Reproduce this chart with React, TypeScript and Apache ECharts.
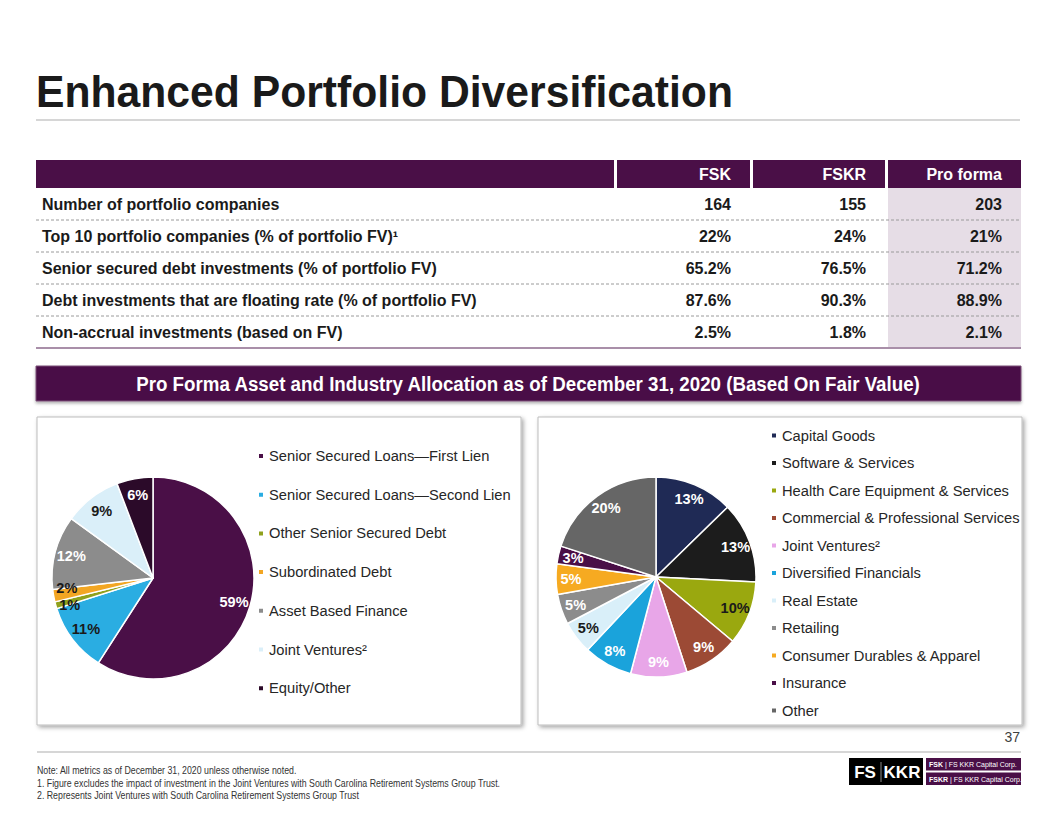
import React, { useEffect, useRef } from "react";
import * as echarts from "echarts";

// ---------- Data ----------
const titleText = "Enhanced Portfolio Diversification";
const tableHeaders = ["FSK", "FSKR", "Pro forma"];
const tableRows = [
  "Number of portfolio companies",
  "Top 10 portfolio companies (% of portfolio FV)¹",
  "Senior secured debt investments (% of portfolio FV)",
  "Debt investments that are floating rate (% of portfolio FV)",
  "Non-accrual investments (based on FV)",
];
const fskValues = ["164", "22%", "65.2%", "87.6%", "2.5%"];
const fskrValues = ["155", "24%", "76.5%", "90.3%", "1.8%"];
const proFormaValues = ["203", "21%", "71.2%", "88.9%", "2.1%"];
const bannerText =
  "Pro Forma Asset and Industry Allocation as of December 31, 2020 (Based On Fair Value)";

const assetNames = [
  "Senior Secured Loans—First Lien",
  "Senior Secured Loans—Second Lien",
  "Other Senior Secured Debt",
  "Subordinated Debt",
  "Asset Based Finance",
  "Joint Ventures²",
  "Equity/Other",
];
const assetValues = [59.1, 11.0, 1.1, 2.0, 11.8, 9.2, 5.8];

const industryNames = [
  "Capital Goods",
  "Software & Services",
  "Health Care Equipment & Services",
  "Commercial & Professional Services",
  "Joint Ventures²",
  "Diversified Financials",
  "Real Estate",
  "Retailing",
  "Consumer Durables & Apparel",
  "Insurance",
  "Other",
];
const industryValues = [12.7, 13.1, 10.3, 8.9, 9.1, 7.9, 5.3, 4.9, 4.9, 2.9, 20.0];

const footNotes = [
  "Note: All metrics as of December 31, 2020 unless otherwise noted.",
  "1. Figure excludes the impact of investment in the Joint Ventures with South Carolina Retirement Systems Group Trust.",
  "2. Represents Joint Ventures with South Carolina Retirement Systems Group Trust",
];
const pageNumber = "37";

// ---------- Styles ----------
const PURPLE = "#4a0f47";
const SANS = '"Liberation Sans", Arial, Helvetica, sans-serif';
const assetColors = ["#4a0f47", "#2aade2", "#8fa11d", "#f2a623", "#8c8c8c", "#daeff9", "#2b0a29"];
const assetLabelColors = ["#ffffff", "#1a1a1a", "#1a1a1a", "#1a1a1a", "#ffffff", "#1a1a1a", "#ffffff"];
// small nudges so the two tiny-slice labels don't sit on top of each other
const assetLabelOffsets = [[0, 0], [0, 0], [-2, 4], [-3, -5], [0, 0], [0, 0], [0, 0]];
const industryColors = [
  "#1f2a55", "#1c1c1c", "#9aa80f", "#9c4a35", "#e8a6e8", "#1aa3db",
  "#d9eff9", "#8c8c8c", "#f6aa21", "#4a0f47", "#666666",
];
const industryLabelColors = [
  "#ffffff", "#ffffff", "#1a1a1a", "#ffffff", "#ffffff", "#ffffff",
  "#1a1a1a", "#ffffff", "#ffffff", "#ffffff", "#ffffff",
];
const industryLabelOffsets = industryNames.map(() => [0, 0]);

function buildGraphics() {
  const g: any[] = [];
  // Title
  g.push({
    type: "text", x: 36, y: 92, z: 10, scaleX: 0.97,
    style: { text: titleText, fill: "#1a1a1a", fontSize: 44, fontWeight: "bold", fontFamily: SANS, align: "left", verticalAlign: "middle" },
  });
  g.push({ type: "line", z: 10, shape: { x1: 36, y1: 120, x2: 1020, y2: 120 }, style: { stroke: "#c8c8c8", lineWidth: 1.5 } });

  // Table header
  const cols = [[36, 614], [617, 750], [753, 885], [888, 1021]];
  cols.forEach((c) => {
    g.push({ type: "rect", z: 10, shape: { x: c[0], y: 160, width: c[1] - c[0], height: 28 }, style: { fill: PURPLE } });
  });
  g.push({ type: "rect", z: 9, shape: { x: 888, y: 188, width: 133, height: 160 }, style: { fill: "#e6dde6" } });
  tableHeaders.forEach((h, i) => {
    g.push({
      type: "text", z: 11, x: cols[i + 1][1] - 19, y: 174,
      style: { text: h, fill: "#ffffff", fontSize: 16, fontWeight: "bold", fontFamily: SANS, align: "right", verticalAlign: "middle" },
    });
  });
  tableRows.forEach((r, i) => {
    const y = 204 + i * 32;
    g.push({
      type: "text", z: 11, x: 42, y,
      style: { text: r, fill: "#1a1a1a", fontSize: 16, fontWeight: "bold", fontFamily: SANS, align: "left", verticalAlign: "middle" },
    });
    [fskValues[i], fskrValues[i], proFormaValues[i]].forEach((v, j) => {
      g.push({
        type: "text", z: 11, x: cols[j + 1][1] - 19, y,
        style: { text: v, fill: "#1a1a1a", fontSize: 16, fontWeight: "bold", fontFamily: SANS, align: "right", verticalAlign: "middle" },
      });
    });
    if (i < tableRows.length - 1) {
      g.push({ type: "line", z: 11, shape: { x1: 36, y1: y + 16, x2: 1021, y2: y + 16 }, style: { stroke: "#9a9a9a", lineWidth: 1, lineDash: [3, 2] } });
    }
  });
  g.push({ type: "line", z: 11, shape: { x1: 36, y1: 348, x2: 1021, y2: 348 }, style: { stroke: "#a98fa9", lineWidth: 2 } });

  // Banner
  g.push({
    type: "rect", z: 10, shape: { x: 36, y: 366, width: 985, height: 35 },
    style: { fill: PURPLE, stroke: "#7b4f78", lineWidth: 1, shadowBlur: 3, shadowOffsetY: 2, shadowColor: "rgba(0,0,0,0.3)" },
  });
  g.push({
    type: "text", z: 11, x: 528, y: 384, scaleX: 0.937,
    style: { text: bannerText, fill: "#ffffff", fontSize: 20, fontWeight: "bold", fontFamily: SANS, align: "center", verticalAlign: "middle" },
  });

  // Panels
  [37, 538].forEach((x) => {
    g.push({
      type: "rect", z: 0, shape: { x, y: 417, width: 484, height: 308 },
      style: { fill: "#ffffff", stroke: "#bdbdbd", lineWidth: 1, shadowBlur: 4, shadowOffsetX: 2, shadowOffsetY: 2, shadowColor: "rgba(0,0,0,0.35)" },
    });
  });

  // Footer
  g.push({
    type: "text", z: 10, x: 1020, y: 737,
    style: { text: pageNumber, fill: "#404040", fontSize: 14, fontFamily: SANS, align: "right", verticalAlign: "middle" },
  });
  g.push({ type: "line", z: 10, shape: { x1: 37, y1: 752, x2: 1021, y2: 752 }, style: { stroke: "#c8c8c8", lineWidth: 1.5 } });
  footNotes.forEach((t, i) => {
    g.push({
      type: "text", z: 10, x: 37, y: 770 + i * 12.8, scaleX: 0.88,
      style: { text: t, fill: "#333333", fontSize: 10, fontFamily: SANS, align: "left", verticalAlign: "middle" },
    });
  });

  // Logo
  g.push({ type: "rect", z: 10, shape: { x: 849, y: 758, width: 74, height: 27 }, style: { fill: "#000000" } });
  g.push({
    type: "text", z: 11, x: 865, y: 772,
    style: { text: "FS", fill: "#ffffff", fontSize: 17, fontWeight: "bold", fontFamily: SANS, align: "center", verticalAlign: "middle" },
  });
  g.push({ type: "line", z: 11, shape: { x1: 881, y1: 762, x2: 881, y2: 782 }, style: { stroke: "#8a8a8a", lineWidth: 1 } });
  g.push({
    type: "text", z: 11, x: 902, y: 772,
    style: { text: "KKR", fill: "#ffffff", fontSize: 17, fontWeight: "bold", fontFamily: SANS, align: "center", verticalAlign: "middle" },
  });
  g.push({ type: "rect", z: 10, shape: { x: 926, y: 758, width: 95, height: 12.5 }, style: { fill: PURPLE } });
  g.push({ type: "rect", z: 10, shape: { x: 926, y: 772.5, width: 95, height: 12.5 }, style: { fill: PURPLE } });
  g.push({
    type: "text", z: 11, x: 929, y: 764.5,
    style: {
      text: "{b|FSK} | FS KKR Capital Corp.", fill: "#ffffff", fontSize: 7, fontFamily: SANS, verticalAlign: "middle",
      rich: { b: { fontWeight: "bold", fontSize: 7, fill: "#ffffff", fontFamily: SANS } },
    },
  });
  g.push({
    type: "text", z: 11, x: 929, y: 779,
    style: {
      text: "{b|FSKR} | FS KKR Capital Corp. II", fill: "#ffffff", fontSize: 7, fontFamily: SANS, verticalAlign: "middle",
      rich: { b: { fontWeight: "bold", fontSize: 7, fill: "#ffffff", fontFamily: SANS } },
    },
  });
  return g;
}

function pieSeries(
  names: string[], values: number[], colors: string[], labelColors: string[], offsets: number[][],
  center: number[], r: number, rLabel: number
) {
  return [
    {
      type: "pie", center, radius: [0, r], startAngle: 90, clockwise: true, silent: true, z: 2,
      label: { show: false }, labelLine: { show: false },
      itemStyle: { borderColor: "#ffffff", borderWidth: 1.5 },
      emphasis: { disabled: true },
      data: names.map((n, i) => ({ name: n, value: values[i], itemStyle: { color: colors[i] } })),
    },
    {
      type: "pie", center, radius: [rLabel, r], startAngle: 90, clockwise: true, silent: true, z: 3,
      labelLine: { show: false },
      avoidLabelOverlap: false,
      labelLayout: { hideOverlap: false },
      itemStyle: { color: "rgba(0,0,0,0)", borderWidth: 0 },
      emphasis: { disabled: true },
      label: {
        show: true, position: "inside", fontSize: 14.5, fontWeight: "bold", fontFamily: SANS,
        formatter: (p: any) => Math.round(p.value) + "%",
      },
      data: names.map((n, i) => ({
        name: n, value: values[i],
        itemStyle: { color: "rgba(0,0,0,0)" },
        label: { color: labelColors[i], offset: offsets[i] },
      })),
    },
  ];
}

function legendOf(names: string[], colors: string[], left: number, top: number, gap: number) {
  return {
    orient: "vertical", left, top, padding: 0, itemWidth: 6, itemHeight: 6, icon: "rect", itemGap: gap,
    selectedMode: false,
    textStyle: { fontSize: 14.7, color: "#262626", fontFamily: SANS, lineHeight: 16 },
    data: names.map((n, i) => ({ name: n, itemStyle: { color: colors[i] } })),
  };
}

export default function App() {
  const ref = useRef<HTMLDivElement>(null);
  useEffect(() => {
    document.body.style.margin = "0";
    if (!ref.current) return;
    const chart = echarts.init(ref.current, undefined, { renderer: "svg" });
    chart.setOption({
      animation: false,
      backgroundColor: "#ffffff",
      graphic: { elements: buildGraphics() },
      legend: [
        legendOf(assetNames, assetColors, 257, 448, 22.7),
        legendOf(industryNames, industryColors, 770, 427.5, 11.5),
      ],
      series: [
        ...pieSeries(assetNames, assetValues, assetColors, assetLabelColors, assetLabelOffsets, [153, 578], 101, 62),
        ...pieSeries(industryNames, industryValues, industryColors, industryLabelColors, industryLabelOffsets, [656, 577], 100, 64),
      ],
    });
    return () => chart.dispose();
  }, []);
  return <div ref={ref} style={{ width: 1056, height: 816 }} />;
}
